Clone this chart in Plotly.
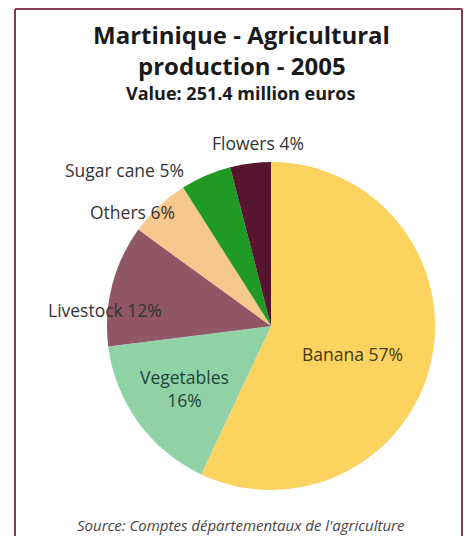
import plotly.graph_objects as go

# Martinique agricultural production, 2005 (share of total value, %)
categories = ["Banana", "Vegetables", "Livestock", "Others", "Sugar cane", "Flowers"]
shares = [57, 16, 12, 6, 5, 4]
colors = ["#fdd35f", "#90d2a6", "#8f5665", "#f6c88e", "#1f9a24", "#58152f"]

title_lines = ["Martinique - Agricultural", "production - 2005"]
subtitle = "Value: 251.4 million euros"
source = "Source: Comptes départementaux de l'agriculture"

W, H = 466, 536
FONT = "Open Sans"

fig = go.Figure(
    go.Pie(
        labels=categories,
        values=shares,
        sort=False,
        direction="clockwise",
        rotation=0,
        marker=dict(colors=colors, line=dict(width=0)),
        textinfo="none",
        hoverinfo="label+percent",
        showlegend=False,
        domain=dict(x=[107 / W, 435 / W], y=[(H - 490) / H, (H - 162) / H]),
    )
)

# slice label anchors in pixels and text colours
label_place = {
    "Flowers": (258, 143, "#333333"),
    "Sugar cane": (124, 170, "#333333"),
    "Others": (132, 212, "#333333"),
    "Livestock": (105, 310, "#333333"),
    "Vegetables": (184, 388, "#22453a"),
    "Banana": (352, 354, "#45380f"),
}

annotations = []
for name, val in zip(categories, shares):
    x, y, c = label_place[name]
    text = f"{name}<br>{val}%" if name == "Vegetables" else f"{name} {val}%"
    annotations.append(dict(
        text=text, x=x / W, y=1 - y / H, xref="paper", yref="paper",
        showarrow=False, font=dict(family=FONT, size=17.5, color=c),
        xanchor="center", yanchor="middle",
    ))

annotations += [
    dict(text=f"<b>{title_lines[0]}</b>", x=242 / W, y=1 - 34 / H, xref="paper", yref="paper",
         showarrow=False, font=dict(family=FONT, size=24, color="#1a1a1a"), yanchor="middle"),
    dict(text=f"<b>{title_lines[1]}</b>", x=242 / W, y=1 - 65 / H, xref="paper", yref="paper",
         showarrow=False, font=dict(family=FONT, size=24, color="#1a1a1a"), yanchor="middle"),
    dict(text=f"<b>{subtitle}</b>", x=240 / W, y=1 - 93 / H, xref="paper", yref="paper",
         showarrow=False, font=dict(family=FONT, size=18, color="#1a1a1a"), yanchor="middle"),
    dict(text=f"<i>{source}</i>", x=241 / W, y=1 - 525 / H, xref="paper", yref="paper",
         showarrow=False, font=dict(family=FONT, size=15, color="#444444"), yanchor="middle"),
]

# frame around the figure (open at the bottom)
frame = dict(color="#8a3a52", width=2)
shapes = [
    dict(type="line", xref="paper", yref="paper", x0=15 / W, x1=462 / W, y0=1 - 9 / H, y1=1 - 9 / H, line=frame),
    dict(type="line", xref="paper", yref="paper", x0=15 / W, x1=15 / W, y0=1 - 9 / H, y1=0, line=frame),
    dict(type="line", xref="paper", yref="paper", x0=462 / W, x1=462 / W, y0=1 - 9 / H, y1=0, line=frame),
]

fig.update_layout(
    width=W, height=H,
    margin=dict(l=0, r=0, t=0, b=0),
    paper_bgcolor="white",
    plot_bgcolor="white",
    annotations=annotations,
    shapes=shapes,
)

fig.write_html("out.html")
